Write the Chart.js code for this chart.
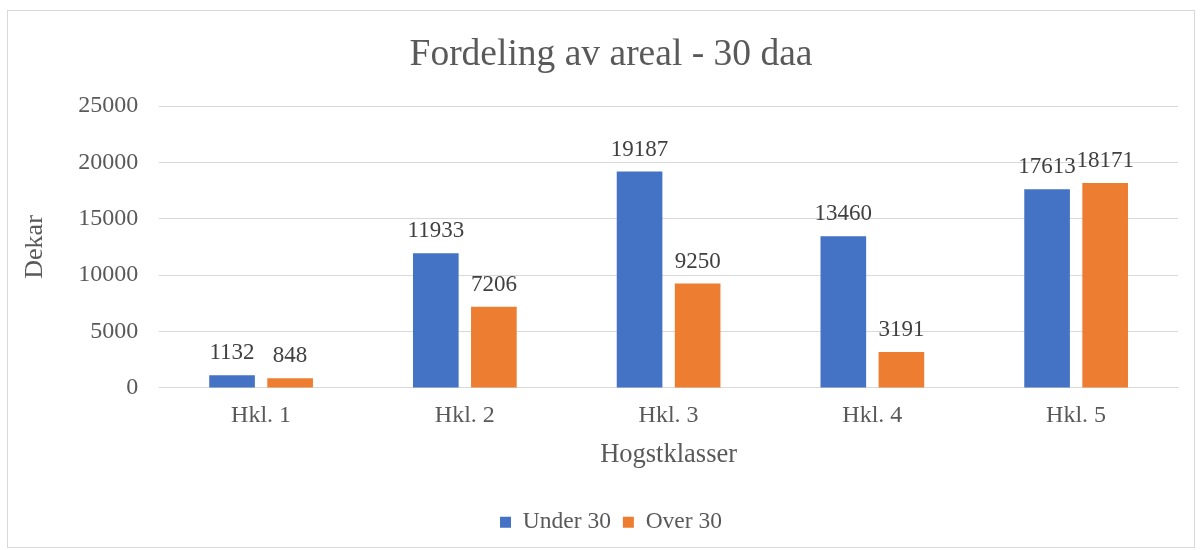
<!DOCTYPE html>
<html>
<head>
<meta charset="utf-8">
<script src="https://cdn.jsdelivr.net/npm/chart.js@4"></script>
<style>
  body { margin: 0; background: #fff; }
  #wrap { position: absolute; left: 7px; top: 10px; width: 1188px; height: 538px; border: 1px solid #d9d9d9; box-sizing: border-box; }
</style>
</head>
<body>
<div id="wrap"><canvas id="chart"></canvas></div>
<script>
const categories = ['Hkl. 1', 'Hkl. 2', 'Hkl. 3', 'Hkl. 4', 'Hkl. 5'];
const under30 = [1132, 11933, 19187, 13460, 17613];
const over30 = [848, 7206, 9250, 3191, 18171];
const yTicks = [0, 5000, 10000, 15000, 20000, 25000];

const serif = "'Liberation Serif', 'Times New Roman', serif";
const textColor = '#595959';
Chart.defaults.font.family = serif;
Chart.defaults.color = textColor;

// value labels above each bar
const valueLabels = {
    id: 'valueLabels',
    afterDatasetsDraw(chart) {
        const ctx = chart.ctx;
        ctx.save();
        ctx.font = `23px ${serif}`;
        ctx.fillStyle = '#404040';
        ctx.textAlign = 'center';
        ctx.textBaseline = 'alphabetic';
        chart.data.datasets.forEach((ds, i) => {
            chart.getDatasetMeta(i).data.forEach((bar, j) => {
                ctx.fillText(ds.data[j], bar.x, bar.y - 16);
            });
        });
        ctx.restore();
    }
};

new Chart('chart', {
    type: 'bar',
    data: {
        labels: categories,
        datasets: [
            { label: 'Under 30', data: under30, backgroundColor: '#4472c4', categoryPercentage: 0.57, barPercentage: 0.786 },
            { label: 'Over 30', data: over30, backgroundColor: '#ed7d31', categoryPercentage: 0.57, barPercentage: 0.786 }
        ]
    },
    options: {
        responsive: true,
        maintainAspectRatio: false,
        animation: false,
        layout: { padding: { left: 36, right: 16, top: 10, bottom: 3 } },
        plugins: {
            title: {
                display: true,
                text: 'Fordeling av areal - 30 daa',
                color: textColor,
                font: { family: serif, size: 37.5, weight: 'normal' },
                padding: { top: 12, bottom: 28 }
            },
            legend: {
                position: 'bottom',
                labels: {
                    color: textColor,
                    font: { family: serif, size: 23.5 },
                    boxWidth: 11,
                    boxHeight: 11,
                    padding: 12
                }
            },
            tooltip: { enabled: false }
        },
        scales: {
            x: {
                grid: { display: false },
                border: { color: '#d9d9d9' },
                ticks: { color: textColor, font: { family: serif, size: 24 }, padding: 5 },
                title: { display: true, text: 'Hogstklasser', color: textColor, font: { family: serif, size: 26.5 }, padding: { top: 4, bottom: 28 } }
            },
            y: {
                min: 0,
                max: 25000,
                afterBuildTicks: axis => { axis.ticks = yTicks.map(v => ({ value: v })); },
                grid: { color: '#d9d9d9', drawTicks: false },
                border: { display: false },
                ticks: { color: textColor, font: { family: serif, size: 24 }, padding: 21, callback: v => String(v) },
                title: { display: true, text: 'Dekar', color: textColor, font: { family: serif, size: 26 }, padding: { top: -24, bottom: 6 } }
            }
        }
    },
    plugins: [valueLabels]
});
</script>
</body>
</html>
